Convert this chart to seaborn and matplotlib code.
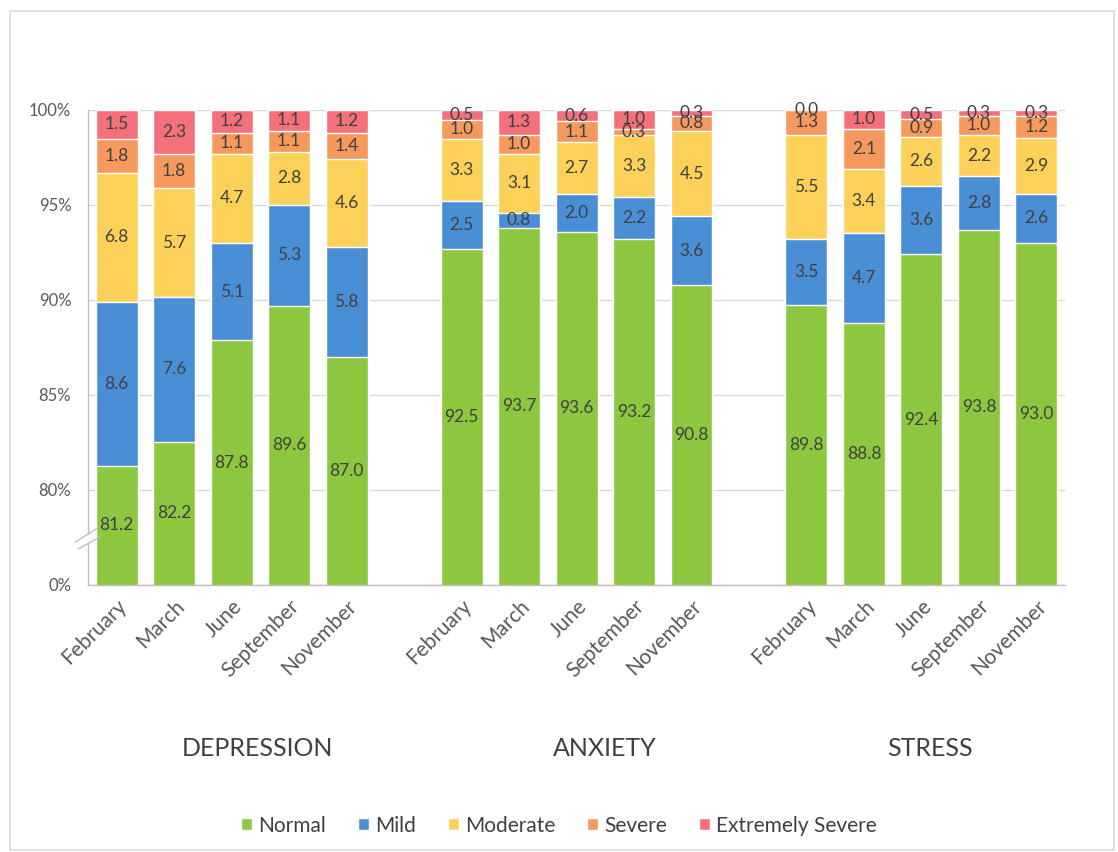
import numpy as np
import pandas as pd
import seaborn as sns
import matplotlib.pyplot as plt
from matplotlib.patches import Patch, Rectangle
from matplotlib.lines import Line2D
from matplotlib.transforms import blended_transform_factory

groups = ["DEPRESSION", "ANXIETY", "STRESS"]
months = ["February", "March", "June", "September", "November"]
levels = ["Normal", "Mild", "Moderate", "Severe", "Extremely Severe"]

normal = [81.2, 82.2, 87.8, 89.6, 87.0, 92.5, 93.7, 93.6, 93.2, 90.8, 89.8, 88.8, 92.4, 93.8, 93.0]
mild = [8.6, 7.6, 5.1, 5.3, 5.8, 2.5, 0.8, 2.0, 2.2, 3.6, 3.5, 4.7, 3.6, 2.8, 2.6]
moderate = [6.8, 5.7, 4.7, 2.8, 4.6, 3.3, 3.1, 2.7, 3.3, 4.5, 5.5, 3.4, 2.6, 2.2, 2.9]
severe = [1.8, 1.8, 1.1, 1.1, 1.4, 1.0, 1.0, 1.1, 0.3, 0.8, 1.3, 2.1, 0.9, 1.0, 1.2]
extreme = [1.5, 2.3, 1.2, 1.1, 1.2, 0.5, 1.3, 0.6, 1.0, 0.3, 0.0, 1.0, 0.5, 0.3, 0.3]

colors = {
    "Normal": "#8DC63F",
    "Mild": "#4A8FD6",
    "Moderate": "#FCD15A",
    "Severe": "#F6995E",
    "Extremely Severe": "#F4707B",
}

TXT = "#404040"
sns.set_theme(style="white")
plt.rcParams["font.family"] = ["Lato", "DejaVu Sans"]
plt.rcParams["text.color"] = TXT

# slots: 5 bars, gap, 5 bars, gap, 5 bars
slots = []
bar_keys = []
for g in groups:
    for m in months:
        key = f"{g}|{m}"
        slots.append(key)
        bar_keys.append(key)
    if g != groups[-1]:
        slots.append(f"gap_{g}")

# 100% stacked: each bar normalised to its own total
vals = np.array([normal, mild, moderate, severe, extreme])
share = vals / vals.sum(axis=0) * 100
cum = np.cumsum(share, axis=0)
rows = []
for li, lev in enumerate(levels):
    for bi, key in enumerate(bar_keys):
        rows.append({"slot": key, "level": lev, "cum": cum[li, bi], "val": vals[li, bi],
                     "low": cum[li, bi] - share[li, bi]})
df = pd.DataFrame(rows)

fig = plt.figure(figsize=(11.18, 8.52), dpi=100)
ax = fig.add_axes([0.0787, 0.3134, 0.874, 0.5575])

sns.barplot(data=df, x="slot", y="cum", hue="level", order=slots,
            hue_order=levels[::-1], palette=colors, dodge=False, width=0.73,
            saturation=1, legend=False, ax=ax, errorbar=None)

ax.set_ylim(75, 100)
ax.set_xlim(-0.5, len(slots) - 0.5)
ax.set_yticks([75, 80, 85, 90, 95, 100])
ax.set_yticklabels(["0%", "80%", "85%", "90%", "95%", "100%"], fontsize=12, color="#595959")
ax.yaxis.grid(True, color="#D9D9D9", lw=1)
ax.set_axisbelow(True)
for s in ["top", "right"]:
    ax.spines[s].set_visible(False)
for s in ["left", "bottom"]:
    ax.spines[s].set_color("#BFBFBF")
    ax.spines[s].set_linewidth(1)
ax.tick_params(axis="y", length=0, pad=12)
ax.tick_params(axis="x", length=0, pad=8)

pos = [slots.index(k) for k in bar_keys]
ax.set_xticks(pos)
ax.set_xticklabels(months * 3, rotation=45, ha="right", rotation_mode="anchor",
                   fontsize=15, color="#595959")
ax.set_xlabel("")
ax.set_ylabel("")

# segment labels, centred in the visible part of each segment
for _, r in df.iterrows():
    lo = min(max(r["low"], 75), 100)
    hi = min(r["cum"], 100)
    x = slots.index(r["slot"])
    ax.text(x, (lo + hi) / 2, f"{r['val']:.1f}", ha="center", va="center",
            fontsize=12.5, color=TXT)

# group titles
tr = blended_transform_factory(ax.transData, fig.transFigure)
for g, gx in zip(groups, [2.44, 8.49, 14.14]):
    ax.text(gx, 0.122, g, transform=tr, ha="center", va="center",
            fontsize=18, color=TXT)

# axis break mark
ax.add_patch(Rectangle((-0.004, 0.088), 0.008, 0.018, transform=ax.transAxes,
                       color="white", clip_on=False, zorder=3))
ax.add_line(Line2D([-0.013, 0.010], [0.0905, 0.12], transform=ax.transAxes,
                   color="#BFBFBF", lw=1, clip_on=False, zorder=4))
ax.add_line(Line2D([-0.010, 0.012], [0.076, 0.101], transform=ax.transAxes,
                   color="#BFBFBF", lw=1, clip_on=False, zorder=4))

handles = [Patch(facecolor=colors[l], label=l) for l in levels]
fig.legend(handles=handles, loc="center", bbox_to_anchor=(0.5, 0.031), ncol=5,
           frameon=False, fontsize=15, handlelength=0.55, handleheight=0.55,
           handletextpad=0.3, columnspacing=1.5)

fig.add_artist(Rectangle((0.009, 0.002), 0.987, 0.985, transform=fig.transFigure,
                         fill=False, edgecolor="#D9D9D9", lw=1.2))

fig.savefig("out.png", dpi=100)
